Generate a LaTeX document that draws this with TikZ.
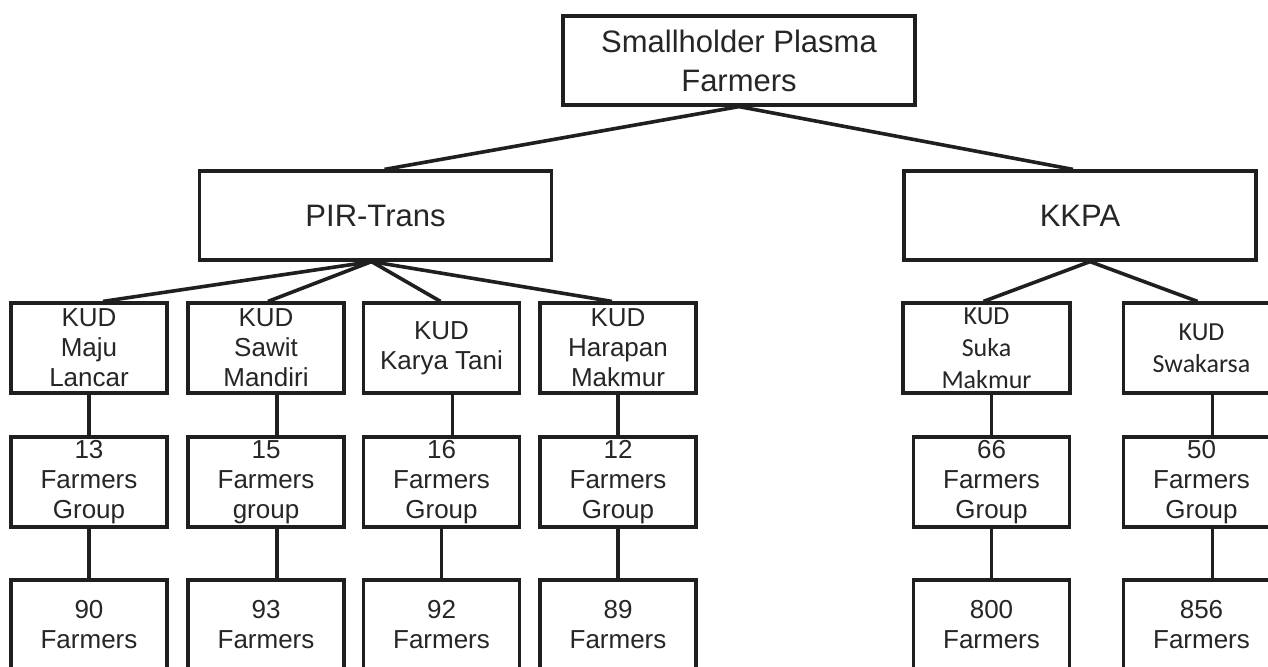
\documentclass[tikz,border=0pt]{standalone}
\usepackage{fontspec}
\setmainfont{Liberation Sans}
\newfontfamily\calib{Carlito}
\begin{document}
\begin{tikzpicture}[x=0.5pt,y=-0.5pt,
  line join=miter,
  box/.style={draw=black!88, line width=1.6pt, inner sep=0pt, align=center, text=black!85,
    minimum width=78pt, minimum height=45pt, font=\fontsize{13}{15}\selectfont},
  bigbox/.style={box, minimum width=176pt, minimum height=44.5pt, font=\fontsize{15.5}{19.5}\selectfont},
  cbox/.style={box, font=\calib\fontsize{13}{16}\selectfont},
  link/.style={draw=black!88, line width=1.8pt}]
\useasboundingbox (0,0) rectangle (1268,666);
\clip (0,0) rectangle (1268,666);
\fill[white] (0,0) rectangle (1268,666);

\node[bigbox] (top) at (739,60.5) {Smallholder Plasma\\Farmers};
\node[bigbox] (pir) at (375.5,215.5) {PIR-Trans};
\node[bigbox] (kkpa) at (1080,215.5) {KKPA};

\node[box] (k1) at (89,348) {KUD\\Maju\\Lancar};
\node[box] (k2) at (266,348) {KUD\\Sawit\\Mandiri};
\node[box] (k3) at (441.5,348) {KUD\\Karya Tani};
\node[box] (k4) at (618,348) {KUD\\Harapan\\Makmur};
\node[cbox, minimum width=83.5pt] (k5) at (986.5,348) {KUD\\Suka\\Makmur};
\node[cbox] (k6) at (1201.5,348) {KUD\\Swakarsa};

\node[box] (g1) at (89,482) {13\\Farmers\\Group};
\node[box] (g2) at (266,482) {15\\Farmers\\group};
\node[box] (g3) at (441.5,482) {16\\Farmers\\Group};
\node[box] (g4) at (618,482) {12\\Farmers\\Group};
\node[box] (g5) at (991.5,482) {66\\Farmers\\Group};
\node[box] (g6) at (1201.5,482) {50\\Farmers\\Group};

\node[box] (f1) at (89,625) {90\\Farmers};
\node[box] (f2) at (266,625) {93\\Farmers};
\node[box] (f3) at (441.5,625) {92\\Farmers};
\node[box] (f4) at (618,625) {89\\Farmers};
\node[box] (f5) at (991.5,625) {800\\Farmers};
\node[box] (f6) at (1201.5,625) {856\\Farmers};

\draw[link] (top.south) -- ([xshift=4.5pt]pir.north);
\draw[link] (top.south) -- ([xshift=-3.5pt]kkpa.north);

\draw[link] ([xshift=-2pt]pir.south) -- ([xshift=7pt]k1.north);
\draw[link] ([xshift=-2pt]pir.south) -- ([xshift=1pt]k2.north);
\draw[link] ([xshift=-2pt]pir.south) -- ([xshift=-0.5pt]k3.north);
\draw[link] ([xshift=-2pt]pir.south) -- ([xshift=-3pt]k4.north);
\draw[link] ([xshift=5pt]kkpa.south) -- ([xshift=-1.5pt]k5.north);
\draw[link] ([xshift=5pt]kkpa.south) -- ([xshift=-2pt]k6.north);

\draw[link] (k1.south) -- (g1.north);
\draw[link] ([xshift=5.5pt]k2.south) -- ([xshift=5.5pt]g2.north);
\draw[link] ([xshift=5.5pt]k3.south) -- ([xshift=5.5pt]g3.north);
\draw[link] (k4.south) -- (g4.north);
\draw[link] (g5.north) -- (g5.north |- k5.south);
\draw[link] ([xshift=5.5pt]k6.south) -- ([xshift=5.5pt]g6.north);

\draw[link] (g1.south) -- (f1.north);
\draw[link] ([xshift=5.5pt]g2.south) -- ([xshift=5.5pt]f2.north);
\draw[link] (g3.south) -- (f3.north);
\draw[link] (g4.south) -- (f4.north);
\draw[link] (g5.south) -- (f5.north);
\draw[link] ([xshift=5.5pt]g6.south) -- ([xshift=5.5pt]f6.north);
\end{tikzpicture}
\end{document}
